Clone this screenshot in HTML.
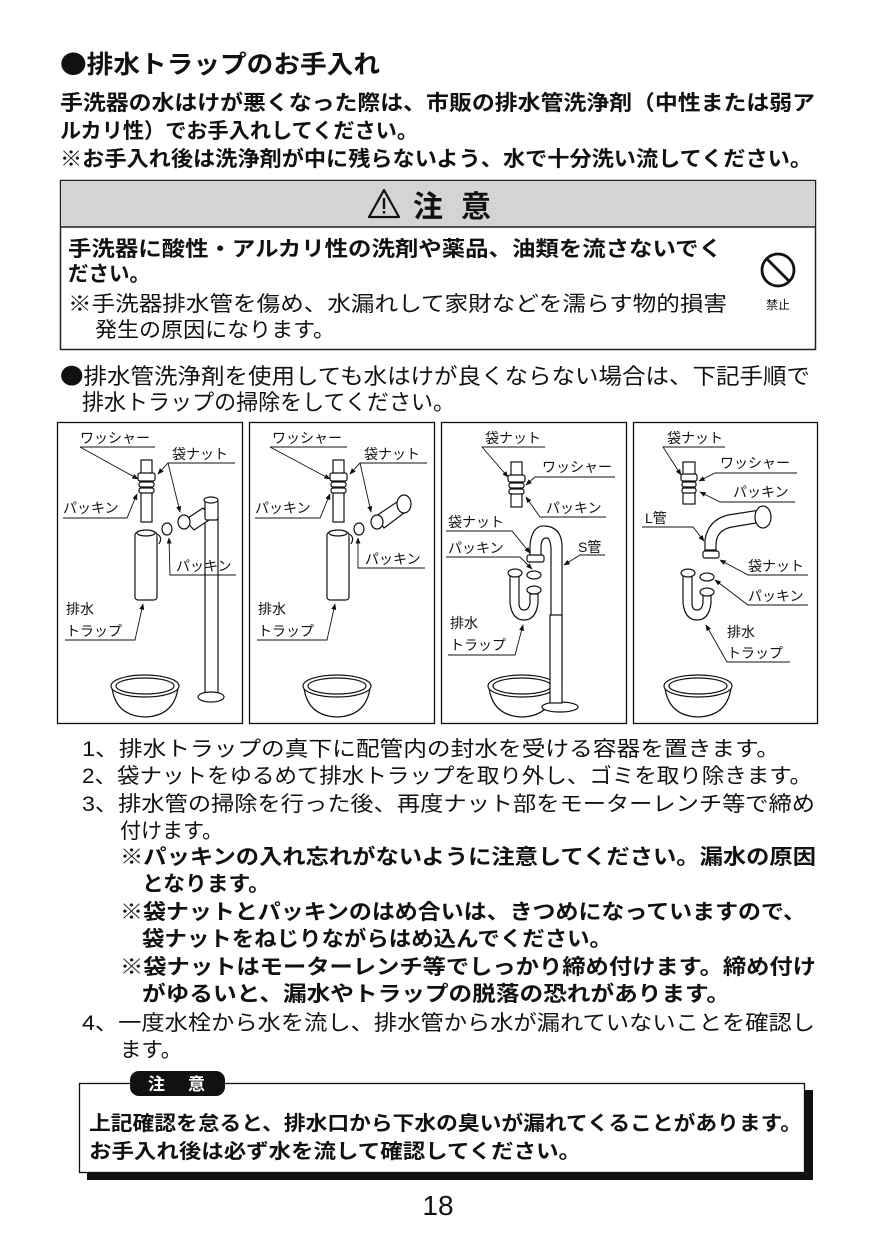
<!DOCTYPE html>
<html><head><meta charset="utf-8">
<style>
html,body{margin:0;padding:0;background:#fff;}
svg{display:block;}
text{font-family:"Liberation Sans","Noto Sans CJK JP",sans-serif;fill:#111;}
.j{font-family:"Noto Sans CJK JP",sans-serif;}
.b{font-weight:700;}
.l{font-size:14px;}
</style></head>
<body>
<svg width="875" height="1240" viewBox="0 0 875 1240" xmlns="http://www.w3.org/2000/svg">
<defs>
<marker id="ar" viewBox="0 0 10 10" refX="9" refY="5" markerWidth="7" markerHeight="7" orient="auto"><path d="M0,1 L10,5 L0,9 Z" fill="#111"/></marker>
</defs>
<!-- title -->
<text x="60" y="73" font-size="25" class="b j" textLength="320" lengthAdjust="spacingAndGlyphs">●排水トラップのお手入れ</text>
<text x="60" y="110" font-size="21" class="b" textLength="755" lengthAdjust="spacingAndGlyphs">手洗器の水はけが悪くなった際は、市販の排水管洗浄剤（中性または弱ア</text>
<text x="60" y="138" font-size="21" class="b" textLength="358" lengthAdjust="spacingAndGlyphs">ルカリ性）でお手入れしてください。</text>
<text x="60" y="166" font-size="21" class="b" textLength="752" lengthAdjust="spacingAndGlyphs">※お手入れ後は洗浄剤が中に残らないよう、水で十分洗い流してください。</text>

<!-- caution box -->
<rect x="60.5" y="180.5" width="755" height="169" fill="#fff" stroke="#222" stroke-width="1.5"/>
<rect x="61" y="181" width="754" height="46" fill="#d4d4d4"/>
<line x1="60" y1="227" x2="815" y2="227" stroke="#222" stroke-width="1.5"/>
<path d="M384,190 L369,217 L399,217 Z" fill="none" stroke="#111" stroke-width="2.2" stroke-linejoin="round"/>
<rect x="382.8" y="198" width="2.4" height="11" fill="#111"/><rect x="382.8" y="211" width="2.4" height="2.6" fill="#111"/>
<text x="413" y="217" font-size="30" class="b">注</text>
<text x="461" y="217" font-size="30" class="b">意</text>
<text x="68" y="256" font-size="21" class="b" textLength="654" lengthAdjust="spacingAndGlyphs">手洗器に酸性・アルカリ性の洗剤や薬品、油類を流さないでく</text>
<text x="68" y="281" font-size="21" class="b" textLength="82" lengthAdjust="spacingAndGlyphs">ださい。</text>
<text x="68" y="311" font-size="21" textLength="659" lengthAdjust="spacingAndGlyphs">※手洗器排水管を傷め、水漏れして家財などを濡らす物的損害</text>
<text x="95" y="337" font-size="21" textLength="240" lengthAdjust="spacingAndGlyphs">発生の原因になります。</text>
<circle cx="778" cy="270" r="16" fill="none" stroke="#111" stroke-width="2.8"/>
<line x1="767" y1="259" x2="789" y2="281" stroke="#111" stroke-width="2.8"/>
<text x="778" y="309" font-size="12" text-anchor="middle">禁止</text>

<text x="60" y="384" font-size="22" class="j" textLength="750" lengthAdjust="spacingAndGlyphs">●排水管洗浄剤を使用しても水はけが良くならない場合は、下記手順で</text>
<text x="82" y="410" font-size="22" textLength="373" lengthAdjust="spacingAndGlyphs">排水トラップの掃除をしてください。</text>

<!-- panels -->
<g fill="none" stroke="#111" stroke-width="1.3">
<rect x="57.5" y="422.5" width="185" height="301"/>
<rect x="249.5" y="422.5" width="185" height="301"/>
<rect x="441.5" y="422.5" width="185" height="301"/>
<rect x="633.5" y="422.5" width="184" height="301"/>
</g>

<!-- bowls -->
<g fill="#fff" stroke="#111" stroke-width="1.2">
<g id="bowl">
<path d="M112,688 Q116,716 145,717 Q174,716 178,688"/>
<ellipse cx="145" cy="686" rx="34" ry="11"/>
<ellipse cx="145" cy="686" rx="29" ry="8"/>
</g>
<use href="#bowl" x="192"/>
<use href="#bowl" x="377"/>
<use href="#bowl" x="553"/>
</g>

<!-- Panel 1 drawing -->
<g fill="#fff" stroke="#111" stroke-width="1.2">
<rect x="141" y="460" width="11" height="62"/>
<rect x="138" y="473" width="17" height="8" rx="2"/>
<rect x="139" y="482" width="15" height="5" rx="2"/>
<rect x="139" y="488" width="15" height="5" rx="2"/>
<rect x="135" y="532" width="22" height="68" rx="3"/>
<ellipse cx="146" cy="533" rx="9" ry="3"/>
<path d="M157,534 q6,3 2,10"/>
<ellipse cx="167" cy="529" rx="5" ry="6"/>
<rect x="205" y="518" width="13" height="176"/>
<path d="M185,520 L203,508 L212,518 L194,530 Z"/>
<ellipse cx="184" cy="522" rx="6" ry="7"/>
<rect x="205" y="500" width="13" height="20" rx="2"/>
<ellipse cx="211" cy="500" rx="7" ry="3"/>
<ellipse cx="211" cy="697" rx="13" ry="5"/>
</g>
<!-- Panel 2 drawing -->
<g fill="#fff" stroke="#111" stroke-width="1.2">
<rect x="333" y="460" width="11" height="62"/>
<rect x="330" y="473" width="17" height="8" rx="2"/>
<rect x="331" y="482" width="15" height="5" rx="2"/>
<rect x="331" y="488" width="15" height="5" rx="2"/>
<rect x="327" y="532" width="22" height="68" rx="3"/>
<ellipse cx="338" cy="533" rx="9" ry="3"/>
<path d="M349,534 q6,3 2,10"/>
<ellipse cx="359" cy="529" rx="5" ry="6"/>
<path d="M376,516 L400,500 L408,510 L384,528 Z"/>
<ellipse cx="404" cy="504" rx="7" ry="9"/>
<ellipse cx="377" cy="522" rx="6" ry="7"/>
</g>
<!-- Panel 3 drawing -->
<g fill="#fff" stroke="#111" stroke-width="1.2">
<rect x="511" y="462" width="11" height="45"/>
<rect x="508" y="475" width="17" height="7" rx="2"/>
<rect x="509" y="483" width="15" height="5" rx="2"/>
<rect x="509" y="489" width="15" height="5" rx="2"/>
<path d="M530,558 L530,545 Q532,525 545,526 Q561,527 562,545 L562,680 L551,680 L551,548 Q550,537 546,538 Q541,538 541,548 L541,558 Z"/>
<rect x="527" y="555" width="17" height="7" rx="2"/>
<ellipse cx="534" cy="575" rx="7" ry="4"/>
<path d="M510,573 L510,603 Q512,620 524,620 Q536,620 538,603 L538,594 L530,594 L530,603 Q529,610 524,610 Q519,610 519,603 L519,573 Z"/>
<ellipse cx="515" cy="573" rx="7" ry="4"/>
<ellipse cx="534" cy="590" rx="7" ry="4"/>
<ellipse cx="560" cy="707" rx="18" ry="5"/>
<rect x="550" y="615" width="12" height="88"/>
</g>
<!-- Panel 4 drawing -->
<g fill="#fff" stroke="#111" stroke-width="1.2">
<rect x="683" y="462" width="12" height="42"/>
<rect x="681" y="474" width="16" height="7" rx="2"/>
<rect x="682" y="482" width="14" height="5" rx="2"/>
<rect x="682" y="488" width="14" height="5" rx="2"/>
<path d="M705,550 L705,540 Q708,520 728,515 L760,510 L762,522 L732,527 Q716,530 716,545 L716,550 Z"/>
<ellipse cx="763" cy="517" rx="8" ry="11"/>
<rect x="703" y="551" width="16" height="7" rx="2"/>
<path d="M683,573 L683,603 Q685,620 697,620 Q709,620 711,603 L711,594 L703,594 L703,603 Q702,610 697,610 Q692,610 692,603 L692,573 Z"/>
<ellipse cx="688" cy="573" rx="7" ry="4"/>
<ellipse cx="707" cy="577" rx="7" ry="4"/>
<ellipse cx="707" cy="592" rx="7" ry="4"/>
</g>

<!-- Labels & leaders -->
<g stroke="#111" stroke-width="0.9" fill="none">
<polyline points="155,447 80,447 138,479" marker-end="url(#ar)"/>
<polyline points="235,463 168,463 158,474" marker-end="url(#ar)"/>
<polyline points="168,463 180,512" marker-end="url(#ar)"/>
<polyline points="63,518 127,518 137,494" marker-end="url(#ar)"/>
<polyline points="236,575 170,575 169,538" marker-end="url(#ar)"/>
<polyline points="65,640 135,640 143,604" marker-end="url(#ar)"/>
<polyline points="347,447 270,447 330,479" marker-end="url(#ar)"/>
<polyline points="427,463 360,463 350,474" marker-end="url(#ar)"/>
<polyline points="360,463 371,512" marker-end="url(#ar)"/>
<polyline points="255,518 320,518 330,494" marker-end="url(#ar)"/>
<polyline points="425,568 358,568 358,538" marker-end="url(#ar)"/>
<polyline points="257,640 327,640 335,604" marker-end="url(#ar)"/>
<polyline points="545,447 482,447 508,477" marker-end="url(#ar)"/>
<polyline points="615,477 535,477 526,485" marker-end="url(#ar)"/>
<polyline points="606,517 540,517 526,497" marker-end="url(#ar)"/>
<polyline points="446,531 512,531 530,553" marker-end="url(#ar)"/>
<polyline points="446,557 520,557 532,569" marker-end="url(#ar)"/>
<polyline points="605,555 580,555 564,565" marker-end="url(#ar)"/>
<polyline points="448,655 515,655 523,625" marker-end="url(#ar)"/>
<polyline points="725,447 663,447 681,475" marker-end="url(#ar)"/>
<polyline points="797,473 715,473 699,481" marker-end="url(#ar)"/>
<polyline points="795,502 720,502 700,492" marker-end="url(#ar)"/>
<polyline points="642,527 693,527 704,541" marker-end="url(#ar)"/>
<polyline points="808,575 748,575 720,560" marker-end="url(#ar)"/>
<polyline points="808,605 748,605 715,580" marker-end="url(#ar)"/>
<polyline points="790,662 727,662 706,625" marker-end="url(#ar)"/>
</g>
<g class="l" font-size="14">
<text x="80" y="443">ワッシャー</text>
<text x="172" y="459">袋ナット</text>
<text x="63" y="513">パッキン</text>
<text x="176" y="571">パッキン</text>
<text x="66" y="614">排水</text>
<text x="66" y="636">トラップ</text>

<text x="272" y="443">ワッシャー</text>
<text x="364" y="459">袋ナット</text>
<text x="255" y="513">パッキン</text>
<text x="365" y="564">パッキン</text>
<text x="258" y="614">排水</text>
<text x="258" y="636">トラップ</text>

<text x="485" y="443">袋ナット</text>
<text x="542" y="472">ワッシャー</text>
<text x="546" y="513">パッキン</text>
<text x="448" y="527">袋ナット</text>
<text x="448" y="553">パッキン</text>
<text x="578" y="552">S管</text>
<text x="450" y="628">排水</text>
<text x="450" y="650">トラップ</text>

<text x="667" y="443">袋ナット</text>
<text x="720" y="468">ワッシャー</text>
<text x="733" y="497">パッキン</text>
<text x="645" y="523">L管</text>
<text x="748" y="571">袋ナット</text>
<text x="748" y="601">パッキン</text>
<text x="727" y="637">排水</text>
<text x="727" y="658">トラップ</text>
</g>

<!-- steps -->
<text x="82" y="756" font-size="21" textLength="698" lengthAdjust="spacingAndGlyphs">1、排水トラップの真下に配管内の封水を受ける容器を置きます。</text>
<text x="82" y="783" font-size="21" textLength="730" lengthAdjust="spacingAndGlyphs">2、袋ナットをゆるめて排水トラップを取り外し、ゴミを取り除きます。</text>
<text x="82" y="811" font-size="21" textLength="733" lengthAdjust="spacingAndGlyphs">3、排水管の掃除を行った後、再度ナット部をモーターレンチ等で締め</text>
<text x="120" y="838" font-size="21" textLength="103" lengthAdjust="spacingAndGlyphs">付けます。</text>
<text x="120" y="864" font-size="21" class="b" textLength="696" lengthAdjust="spacingAndGlyphs">※パッキンの入れ忘れがないように注意してください。漏水の原因</text>
<text x="142" y="891" font-size="21" class="b" textLength="128" lengthAdjust="spacingAndGlyphs">となります。</text>
<text x="120" y="919" font-size="21" class="b" textLength="686" lengthAdjust="spacingAndGlyphs">※袋ナットとパッキンのはめ合いは、きつめになっていますので、</text>
<text x="142" y="946" font-size="21" class="b" textLength="470" lengthAdjust="spacingAndGlyphs">袋ナットをねじりながらはめ込んでください。</text>
<text x="120" y="974" font-size="21" class="b" textLength="696" lengthAdjust="spacingAndGlyphs">※袋ナットはモーターレンチ等でしっかり締め付けます。締め付け</text>
<text x="142" y="1001" font-size="21" class="b" textLength="588" lengthAdjust="spacingAndGlyphs">がゆるいと、漏水やトラップの脱落の恐れがあります。</text>
<text x="82" y="1030" font-size="21" textLength="733" lengthAdjust="spacingAndGlyphs">4、一度水栓から水を流し、排水管から水が漏れていないことを確認し</text>
<text x="120" y="1057" font-size="21" textLength="62" lengthAdjust="spacingAndGlyphs">ます。</text>

<!-- bottom caution -->
<rect x="87" y="1090" width="726" height="90" fill="#111"/>
<rect x="79.5" y="1083.5" width="725" height="89" fill="#fff" stroke="#111" stroke-width="1.3"/>
<rect x="130" y="1071" width="95" height="25" rx="9" fill="#111"/>
<text x="148" y="1090" font-size="17" class="b" style="fill:#fff">注</text>
<text x="188" y="1090" font-size="17" class="b" style="fill:#fff">意</text>
<text x="89" y="1130" font-size="20" class="b" textLength="713" lengthAdjust="spacingAndGlyphs">上記確認を怠ると、排水口から下水の臭いが漏れてくることがあります。</text>
<text x="89" y="1158" font-size="20" class="b" textLength="492" lengthAdjust="spacingAndGlyphs">お手入れ後は必ず水を流して確認してください。</text>

<text x="438" y="1215" font-size="28" text-anchor="middle" font-weight="300">18</text>
</svg>
</body></html>
